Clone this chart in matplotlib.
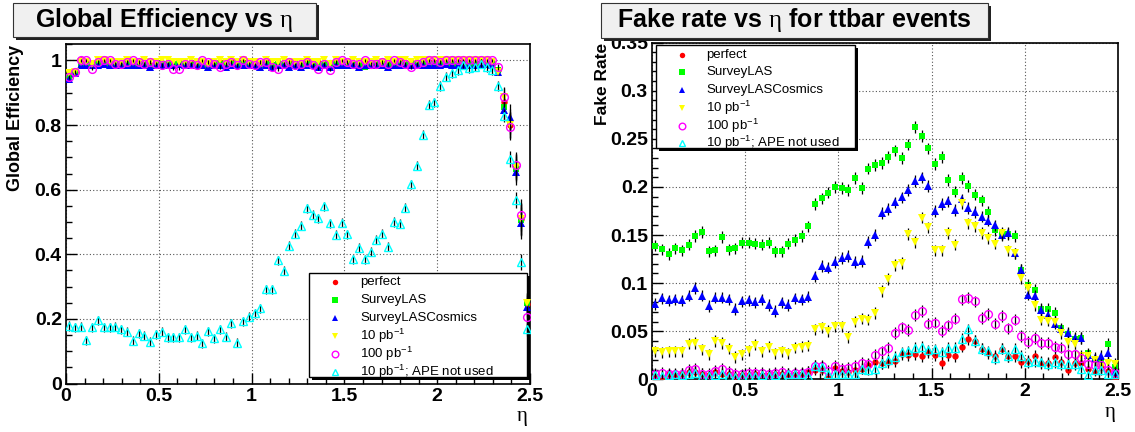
import numpy as np
import matplotlib
matplotlib.use("Agg")
import matplotlib.pyplot as plt
from matplotlib.patches import Rectangle
from matplotlib.ticker import FixedLocator, MultipleLocator, FixedFormatter

plt.rcParams['font.family'] = ['Liberation Sans', 'DejaVu Sans']
plt.rcParams['mathtext.fontset'] = 'custom'
plt.rcParams['mathtext.rm'] = 'Liberation Serif'
plt.rcParams['mathtext.it'] = 'Liberation Serif:italic'
plt.rcParams['mathtext.bf'] = 'Liberation Serif:bold'
plt.rcParams['mathtext.default'] = 'regular'

# ---------------- data ----------------
eta_min, eta_max = 0.0, 2.5
n_bins_eff = 80
n_bins_fake = 70

series_labels = ["perfect", "SurveyLAS", "SurveyLASCosmics",
                 r"10 pb$^{-1}$", r"100 pb$^{-1}$", r"10 pb$^{-1}$; APE not used"]

eff_perfect = [0.955, 0.964, 1.0, 0.995, 0.99, 0.995, 0.995, 0.99, 0.99, 0.995,
               0.995, 0.99, 0.99, 0.995, 0.985, 0.995, 0.99, 0.995, 0.99, 0.995,
               0.99, 0.995, 0.99, 0.995, 0.99, 0.99, 0.995, 0.99, 0.995, 0.99,
               0.995, 0.99, 0.99, 0.99, 0.995, 0.99, 0.985, 0.995, 0.995, 0.99,
               0.99, 0.995, 0.99, 0.995, 0.99, 0.985, 0.995, 0.99, 0.995, 0.99,
               0.99, 0.995, 0.99, 0.995, 0.99, 0.995, 0.99, 0.995, 0.99, 0.995,
               0.995, 0.995, 0.995, 0.995, 0.995, 0.995, 0.995, 0.995, 0.995, 0.995,
               0.995, 0.995, 0.995, 0.995, 0.97, 0.87, 0.80, 0.67, 0.51, 0.245]
eff_surveylas = [0.95, 0.965, 0.985, 0.985, 0.99, 0.99, 0.99, 0.985, 0.99, 0.99,
                 0.99, 0.985, 0.99, 0.99, 0.98, 0.99, 0.99, 0.99, 0.99, 0.99,
                 0.99, 0.985, 0.99, 0.99, 0.985, 0.99, 0.99, 0.985, 0.99, 0.99,
                 0.99, 0.99, 0.99, 0.985, 0.99, 0.985, 0.99, 0.99, 0.985, 0.99,
                 0.985, 0.99, 0.99, 0.985, 0.99, 0.985, 0.99, 0.99, 0.99, 0.985,
                 0.985, 0.98, 0.99, 0.99, 0.99, 0.985, 0.99, 0.99, 0.99, 0.99,
                 0.99, 0.99, 0.99, 0.99, 0.99, 0.99, 0.99, 0.99, 0.99, 0.99,
                 0.99, 0.99, 0.99, 0.99, 0.97, 0.857, 0.811, 0.665, 0.506, 0.25]
eff_cosmics = [0.942, 0.962, 0.985, 0.985, 0.985, 0.985, 0.99, 0.985, 0.985, 0.985,
               0.985, 0.985, 0.985, 0.985, 0.98, 0.985, 0.985, 0.985, 0.985, 0.99,
               0.985, 0.985, 0.985, 0.985, 0.98, 0.985, 0.985, 0.98, 0.985, 0.985,
               0.985, 0.985, 0.985, 0.98, 0.985, 0.98, 0.985, 0.985, 0.98, 0.985,
               0.98, 0.985, 0.985, 0.98, 0.985, 0.98, 0.985, 0.985, 0.985, 0.985,
               0.98, 0.985, 0.985, 0.985, 0.985, 0.98, 0.985, 0.985, 0.985, 0.985,
               0.985, 0.985, 0.985, 0.985, 0.985, 0.99, 0.985, 0.985, 0.985, 0.985,
               0.985, 0.985, 0.99, 0.985, 0.964, 0.847, 0.826, 0.656, 0.496, 0.236]
eff_10pb = [0.962, 0.965, 0.995, 0.995, 0.99, 1.0, 1.0, 0.995, 0.995, 0.995,
            1.0, 0.995, 0.995, 1.0, 0.995, 0.995, 1.0, 1.0, 0.995, 0.995,
            0.995, 1.0, 0.995, 0.995, 0.99, 0.995, 1.0, 0.995, 1.0, 0.995,
            1.0, 0.995, 0.995, 0.99, 1.0, 0.995, 0.995, 1.0, 0.995, 0.995,
            0.995, 1.0, 0.995, 0.995, 1.0, 0.99, 1.0, 0.995, 0.995, 1.0,
            0.995, 0.995, 0.995, 1.0, 0.995, 1.0, 0.995, 1.0, 1.0, 0.995,
            1.0, 1.0, 1.0, 1.0, 1.0, 1.0, 1.0, 1.0, 1.0, 1.0,
            1.0, 1.0, 1.0, 0.995, 0.964, 0.886, 0.80, 0.67, 0.51, 0.25]
eff_100pb = [0.95, 0.965, 1.0, 1.0, 0.975, 0.995, 1.0, 1.0, 0.99, 0.99,
             0.995, 1.0, 0.995, 0.99, 0.995, 0.99, 0.985, 0.99, 0.975, 0.975,
             0.99, 0.99, 0.985, 1.0, 0.995, 0.99, 0.98, 0.99, 0.995, 0.985,
             1.0, 0.99, 0.985, 0.995, 0.995, 0.98, 0.973, 0.99, 0.995, 0.985,
             0.99, 0.995, 0.985, 0.975, 0.99, 0.972, 0.995, 1.0, 0.995, 0.99,
             0.99, 1.0, 0.99, 0.99, 0.995, 0.99, 1.0, 0.995, 0.99, 0.98,
             0.99, 0.995, 1.0, 1.0, 0.995, 1.0, 1.0, 1.0, 1.0, 1.0,
             1.0, 1.0, 1.0, 1.0, 0.979, 0.888, 0.795, 0.677, 0.522, 0.207]
eff_noape = [0.178, 0.174, 0.176, 0.134, 0.174, 0.196, 0.174, 0.174, 0.176, 0.168,
             0.16, 0.132, 0.155, 0.148, 0.129, 0.153, 0.16, 0.143, 0.143, 0.143,
             0.168, 0.143, 0.148, 0.124, 0.162, 0.14, 0.168, 0.145, 0.186, 0.126,
             0.193, 0.207, 0.217, 0.233, 0.292, 0.292, 0.382, 0.349, 0.426, 0.464,
             0.489, 0.542, 0.522, 0.511, 0.548, 0.496, 0.46, 0.498, 0.462, 0.384,
             0.421, 0.384, 0.408, 0.445, 0.463, 0.424, 0.5, 0.494, 0.544, 0.617,
             0.674, 0.77, 0.863, 0.871, 0.921, 0.95, 0.961, 0.969, 0.987, 0.976,
             0.981, 0.99, 0.979, 0.97, 0.921, 0.829, 0.694, 0.568, 0.375, 0.168]
eff_err_main = [0.006] * 74 + [0.01, 0.03, 0.04, 0.04, 0.05, 0.03]
eff_err_noape = [0.014] * 74 + [0.015, 0.02, 0.025, 0.025, 0.025, 0.02]

fake_perfect = [0.0035, 0.002, 0.005, 0.0045, 0.0055, 0.008, 0.008, 0.0055, 0.004, 0.008,
                0.006, 0.0055, 0.0035, 0.004, 0.0045, 0.005, 0.0045, 0.004, 0.0055, 0.0055,
                0.004, 0.0055, 0.0055, 0.008, 0.010, 0.010, 0.0035, 0.012, 0.009, 0.008,
                0.010, 0.011, 0.015, 0.018, 0.017, 0.018,
                0.019, 0.026, 0.025, 0.026, 0.024, 0.028, 0.025, 0.017, 0.025, 0.024,
                0.034, 0.042, 0.040, 0.032, 0.027, 0.024, 0.032, 0.024, 0.024, 0.018,
                0.019, 0.024, 0.017, 0.017, 0.023, 0.018, 0.010, 0.017, 0.017, 0.011,
                0.009, 0.013, 0.009, 0.001]
fake_surveylas = [0.139, 0.135, 0.130, 0.136, 0.134, 0.140, 0.149, 0.153, 0.133, 0.134,
                  0.148, 0.135, 0.136, 0.142, 0.142, 0.141, 0.140, 0.142, 0.133, 0.133,
                  0.141, 0.145, 0.149, 0.159, 0.182, 0.188, 0.194, 0.200, 0.199, 0.197,
                  0.209, 0.199, 0.219, 0.223, 0.225, 0.231,
                  0.238, 0.230, 0.244, 0.262, 0.253, 0.240, 0.224, 0.231, 0.207, 0.195,
                  0.209, 0.201, 0.192, 0.186, 0.174, 0.155, 0.151, 0.151, 0.149, 0.114,
                  0.098, 0.093, 0.073, 0.073, 0.069, 0.053, 0.047, 0.042, 0.043, 0.027,
                  0.020, 0.018, 0.037, 0.013]
fake_cosmics = [0.078, 0.084, 0.082, 0.083, 0.082, 0.087, 0.095, 0.087, 0.076, 0.085,
                0.085, 0.083, 0.073, 0.081, 0.082, 0.080, 0.083, 0.077, 0.071, 0.080,
                0.077, 0.084, 0.083, 0.086, 0.107, 0.118, 0.116, 0.122, 0.126, 0.128,
                0.122, 0.123, 0.143, 0.150, 0.173, 0.177,
                0.184, 0.189, 0.197, 0.206, 0.210, 0.201, 0.175, 0.182, 0.185, 0.176,
                0.187, 0.178, 0.174, 0.169, 0.165, 0.160, 0.150, 0.152, 0.131, 0.114,
                0.088, 0.087, 0.072, 0.067, 0.058, 0.052, 0.048, 0.043, 0.043, 0.025,
                0.022, 0.024, 0.027, 0.008]
fake_10pb = [0.029, 0.028, 0.029, 0.029, 0.029, 0.037, 0.038, 0.031, 0.026, 0.040,
             0.038, 0.032, 0.023, 0.026, 0.030, 0.036, 0.029, 0.034, 0.027, 0.029,
             0.027, 0.033, 0.034, 0.035, 0.052, 0.054, 0.050, 0.055, 0.055, 0.044,
             0.060, 0.063, 0.062, 0.069, 0.092, 0.104,
             0.119, 0.121, 0.151, 0.143, 0.168, 0.158, 0.134, 0.134, 0.152, 0.140,
             0.183, 0.162, 0.159, 0.152, 0.147, 0.141, 0.152, 0.134, 0.131, 0.105,
             0.095, 0.077, 0.062, 0.061, 0.060, 0.048, 0.039, 0.037, 0.024, 0.024,
             0.020, 0.013, 0.017, 0.016]
fake_100pb = [0.0055, 0.007, 0.006, 0.006, 0.006, 0.010, 0.011, 0.0055, 0.0055, 0.009,
              0.011, 0.008, 0.0055, 0.005, 0.007, 0.007, 0.007, 0.006, 0.007, 0.008,
              0.006, 0.007, 0.007, 0.008, 0.014, 0.014, 0.009, 0.014, 0.011, 0.012,
              0.014, 0.017, 0.016, 0.025, 0.029, 0.033,
              0.048, 0.054, 0.051, 0.067, 0.071, 0.058, 0.059, 0.050, 0.056, 0.063,
              0.083, 0.085, 0.081, 0.064, 0.068, 0.058, 0.066, 0.053, 0.062, 0.045,
              0.039, 0.043, 0.038, 0.038, 0.034, 0.033, 0.026, 0.026, 0.022, 0.016,
              0.015, 0.015, 0.010, 0.007]
fake_noape = [0.0045, 0.0035, 0.0045, 0.005, 0.004, 0.0055, 0.007, 0.003, 0.003, 0.0045,
              0.0055, 0.0035, 0.002, 0.0035, 0.003, 0.0035, 0.0045, 0.0035, 0.0045, 0.0035,
              0.0055, 0.0055, 0.006, 0.003, 0.014, 0.013, 0.0055, 0.006, 0.006, 0.006,
              0.006, 0.011, 0.010, 0.011, 0.017, 0.020,
              0.023, 0.028, 0.029, 0.033, 0.034, 0.030, 0.031, 0.028, 0.033, 0.033,
              0.042, 0.052, 0.040, 0.032, 0.029, 0.022, 0.032, 0.024, 0.032, 0.024,
              0.018, 0.019, 0.018, 0.016, 0.018, 0.016, 0.016, 0.016, 0.011, 0.0045,
              0.010, 0.010, 0.0055, 0.0055]
fake_err = 0.006

eff_xticks = [0, 0.5, 1, 1.5, 2, 2.5]
eff_xticklabels = ["0", "0.5", "1", "1.5", "2", "2.5"]
eff_yticks = [0, 0.2, 0.4, 0.6, 0.8, 1.0]
eff_yticklabels = ["0", "0.2", "0.4", "0.6", "0.8", "1"]
fake_yticks = [0, 0.05, 0.1, 0.15, 0.2, 0.25, 0.3, 0.35]
fake_yticklabels = ["0", "0.05", "0.1", "0.15", "0.2", "0.25", "0.3", "0.35"]

# ---------------- style ----------------
colors = ["#ff0000", "#00ff00", "#0000ff", "#ffff00", "#ff00ff", "#00ffff"]
markers = ["o", "s", "^", "v", "o", "^"]
msizes = [4.6, 4.4, 5.2, 5.2, 5.6, 5.6]
opens = [False, False, False, False, True, True]

W, H = 1135, 432
fig = plt.figure(figsize=(W / 100, H / 100), dpi=100)


def frect(x0, y0, x1, y1):
    return [x0 / W, 1 - y1 / H, (x1 - x0) / W, (y1 - y0) / H]


axL = fig.add_axes(frect(66, 44, 530, 383.5))
axR = fig.add_axes(frect(652, 42.6, 1118, 379.3))

xc_eff = (np.arange(n_bins_eff) + 0.5) * (eta_max - eta_min) / n_bins_eff + eta_min
xc_fake = (np.arange(n_bins_fake) + 0.5) * (eta_max - eta_min) / n_bins_fake + eta_min


def draw_series(ax, x, y, err, i, z):
    ax.errorbar(x, y, yerr=err, fmt=markers[i], ms=msizes[i],
                mfc="none" if opens[i] else colors[i], mec=colors[i],
                mew=1.0 if opens[i] else 0.0, ecolor="black", elinewidth=0.9,
                capsize=0, zorder=z, clip_on=True)


eff_sets = [eff_perfect, eff_surveylas, eff_cosmics, eff_10pb, eff_100pb, eff_noape]
for i, ys in enumerate(eff_sets):
    draw_series(axL, xc_eff, ys, eff_err_noape if i == 5 else eff_err_main, i, 4 + i)

fake_sets = [fake_perfect, fake_surveylas, fake_cosmics, fake_10pb, fake_100pb, fake_noape]
for i, ys in enumerate(fake_sets):
    draw_series(axR, xc_fake, ys, fake_err, i, 4 + i)

for ax, yt, ytl, ymax, ymin_minor in [(axL, eff_yticks, eff_yticklabels, 1.051, 0.05),
                                       (axR, fake_yticks, fake_yticklabels, 0.35, 0.01)]:
    ax.set_xlim(eta_min, eta_max)
    ax.set_ylim(0, ymax)
    ax.xaxis.set_major_locator(FixedLocator(eff_xticks))
    ax.xaxis.set_major_formatter(FixedFormatter(eff_xticklabels))
    ax.xaxis.set_minor_locator(MultipleLocator(0.1))
    ax.yaxis.set_major_locator(FixedLocator(yt))
    ax.yaxis.set_major_formatter(FixedFormatter(ytl))
    ax.yaxis.set_minor_locator(MultipleLocator(ymin_minor))
    ax.tick_params(which="both", direction="in", top=False, right=False, width=1.0)
    ax.tick_params(which="major", length=8, labelsize=14, pad=3)
    ax.tick_params(which="minor", length=4.5)
    for lab in ax.get_xticklabels() + ax.get_yticklabels():
        lab.set_fontweight("bold")
    ax.grid(True, which="major", color="#555555", ls=(0, (1, 2)), lw=0.8)
    ax.set_axisbelow(True)
    for s in ax.spines.values():
        s.set_linewidth(1.2)
        s.set_color("black")
    ax.set_xlabel(r"$\mathrm{\eta}$", fontsize=15, loc="right")

axL.xaxis.set_label_coords(0.995, -0.075)
axR.xaxis.set_label_coords(0.995, -0.075)
axL.set_ylabel("Global Efficiency", fontsize=13, fontweight="bold", loc="top")
axL.yaxis.set_label_coords(-0.09, 0.997)
axR.set_ylabel("Fake Rate", fontsize=12.5, fontweight="bold", loc="top")
axR.yaxis.set_label_coords(-0.09, 1.0)


# ---------------- title boxes ----------------
def title_box(x0, y0, x1, y1, text):
    sh = 2.5
    fig.add_artist(Rectangle(((x0 + sh) / W, 1 - (y1 + sh) / H), (x1 - x0) / W, (y1 - y0) / H,
                             transform=fig.transFigure, facecolor="#222222", edgecolor="none", zorder=20))
    fig.add_artist(Rectangle((x0 / W, 1 - y1 / H), (x1 - x0) / W, (y1 - y0) / H,
                             transform=fig.transFigure, facecolor="#f0f0f0", edgecolor="#333333",
                             lw=0.8, zorder=21))
    fig.text((x0 + x1) / 2 / W, 1 - (y0 + y1) / 2 / H, text, ha="center", va="center",
             fontsize=18, fontweight="bold", zorder=22)


title_box(13, 3, 316, 37, r"Global Efficiency vs $\mathrm{\eta}$")
title_box(601, 3, 988, 38, r"Fake rate vs $\mathrm{\eta}$ for ttbar events")


# ---------------- legends ----------------
def draw_legend(ax, box, mx, tx, ys, px2ax):
    x0, y0, x1, y1 = box
    sh = 2.5
    ax0, ay1 = px2ax(x0, y0)
    ax1, ay0 = px2ax(x1, y1)
    bx0, by1 = px2ax(x0 + sh, y0 + sh)
    bx1, by0 = px2ax(x1 + sh, y1 + sh)
    ax.add_patch(Rectangle((bx0, by0), bx1 - bx0, by1 - by0, transform=ax.transAxes,
                           facecolor="black", edgecolor="none", clip_on=False, zorder=2.6))
    ax.add_patch(Rectangle((ax0, ay0), ax1 - ax0, ay1 - ay0, transform=ax.transAxes,
                           facecolor="white", edgecolor="black", lw=1.0, clip_on=False, zorder=2.7))
    for i, py in enumerate(ys):
        mxa, mya = px2ax(mx, py)
        txa, _ = px2ax(tx, py)
        ax.plot([mxa], [mya], marker=markers[i], ms=msizes[i] * 0.85, ls="none",
                mfc="none" if opens[i] else colors[i], mec=colors[i],
                mew=1.0 if opens[i] else 0.0, transform=ax.transAxes, clip_on=False, zorder=2.8)
        ax.text(txa, mya, series_labels[i], transform=ax.transAxes, fontsize=9.5,
                va="center", ha="left", zorder=2.8)


def pxL(px, py):
    return (px - 66) / 464.0, (383.5 - py) / 339.5


def pxR(px, py):
    return (px - 652) / 466.0, (379.3 - py) / 336.7


draw_legend(axL, (309, 273, 527, 377), 335, 360, [282, 300, 318, 336, 354, 372], pxL)
draw_legend(axR, (656, 45, 855, 148), 682, 706, [55, 72, 90, 108, 126, 143], pxR)

fig.savefig("out.png", dpi=100)
